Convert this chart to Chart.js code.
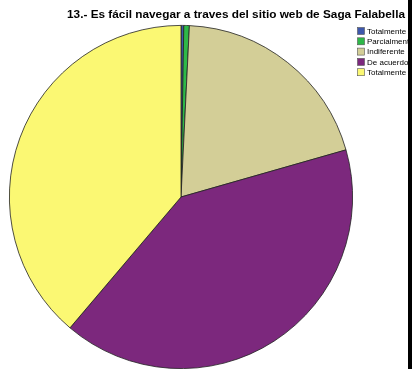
<!DOCTYPE html>
<html>
<head>
<meta charset="utf-8">
<script src="https://cdn.jsdelivr.net/npm/chart.js@4/dist/chart.umd.min.js"></script>
<style>
  html, body { margin: 0; padding: 0; background: #fff; }
  #wrap { width: 412px; height: 369px; position: relative; }
</style>
</head>
<body>
<div id="wrap"><canvas id="pie" width="412" height="369"></canvas></div>
<script>
"use strict";

// Data
const TITLE  = "13.- Es fácil navegar a traves del sitio web de Saga Falabella";
const LABELS = ["Totalmente en desacuerdo", "Parcialmente en desacuerdo", "Indiferente", "De acuerdo", "Totalmente de acuerdo"];
const COUNTS = [1, 2, 76, 156, 149];
const COLORS = ["#3e58ac", "#2eb848", "#d3ce97", "#7c287d", "#fbf873"];

// title + legend drawn by hand, SPSS style
const spssDecor = {
  id: "spssDecor",
  afterDraw(chart) {
    const ctx = chart.ctx;
    ctx.save();
    ctx.fillStyle = "#000";
    ctx.font = "bold 10px 'Liberation Sans', Arial, sans-serif";
    ctx.textBaseline = "middle";
    ctx.textAlign = "left";
    // stretch the title across the same span as the reference
    const w = ctx.measureText(TITLE).width;
    ctx.translate(67, 15);
    ctx.scale(338 / w, 1);
    ctx.fillText(TITLE, 0, 0);
    ctx.restore();

    // legend, clipped at the frame edge
    ctx.save();
    ctx.beginPath();
    ctx.rect(350, 20, 58, 70);
    ctx.clip();
    ctx.textBaseline = "middle";
    ctx.font = "8px 'Liberation Sans', Arial, sans-serif";
    LABELS.forEach((lab, i) => {
      const y = 31 + i * 10.3;
      ctx.fillStyle = COLORS[i];
      ctx.fillRect(357.5, y - 3.5, 7, 7);
      ctx.strokeStyle = "#555";
      ctx.lineWidth = 0.6;
      ctx.strokeRect(357.5, y - 3.5, 7, 7);
      ctx.fillStyle = "#000";
      ctx.fillText(lab, 367, y + 0.5);
    });
    ctx.restore();

    // dark frame edge on the right
    ctx.save();
    ctx.fillStyle = "#000";
    ctx.fillRect(408, 0, 4, 369);
    ctx.restore();
  }
};

new Chart(document.getElementById("pie").getContext("2d"), {
  type: "pie",
  data: {
    labels: LABELS,
    datasets: [{
      data: COUNTS,
      backgroundColor: COLORS,
      borderColor: "#222",
      borderWidth: 0.8
    }]
  },
  options: {
    responsive: false,
    animation: false,
    layout: { padding: { left: 9, right: 59, top: 25, bottom: 0 } },
    plugins: {
      legend: { display: false },
      title: { display: false },
      tooltip: { enabled: false }
    }
  },
  plugins: [spssDecor]
});
</script>
</body>
</html>
